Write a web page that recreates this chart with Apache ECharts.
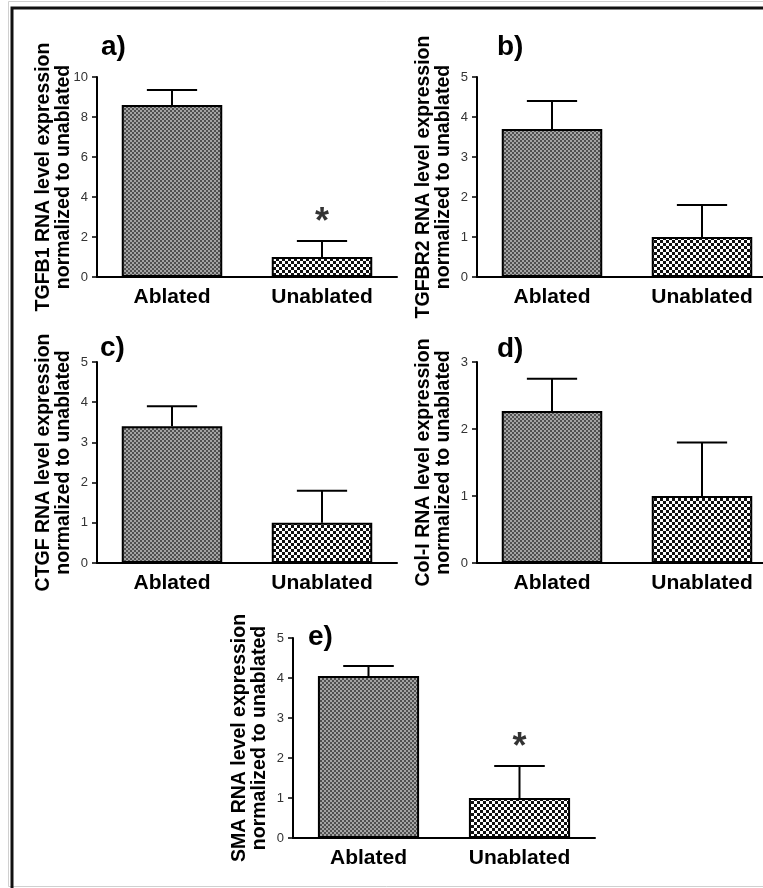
<!DOCTYPE html>
<html><head><meta charset="utf-8">
<script src="https://cdn.jsdelivr.net/npm/echarts@6/dist/echarts.min.js"></script>
<style>html,body{margin:0;padding:0;background:#fff}#c{width:763px;height:888px}</style>
</head><body><div id="c"></div>
<script>
// ---- data ----
const categories = ['Ablated', 'Unablated'];
const tgfb1Mean = [8.6, 1.0];
const tgfb1Err = [0.75, 0.8];
const tgfb1Sig = ['', '*'];
const tgfbr2Mean = [3.7, 1.0];
const tgfbr2Err = [0.7, 0.8];
const tgfbr2Sig = ['', ''];
const ctgfMean = [3.4, 1.0];
const ctgfErr = [0.5, 0.8];
const ctgfSig = ['', ''];
const col1Mean = [2.27, 1.0];
const col1Err = [0.48, 0.8];
const col1Sig = ['', ''];
const smaMean = [4.05, 1.0];
const smaErr = [0.25, 0.8];
const smaSig = ['', '*'];
const panelLetters = ['a)', 'b)', 'c)', 'd)', 'e)'];
const yTitles = [
  'TGFB1 RNA level expression\nnormalized to unablated',
  'TGFBR2 RNA level expression\nnormalized to unablated',
  'CTGF RNA level expression\nnormalized to unablated',
  'Col-I RNA level expression\nnormalized to unablated',
  'SMA RNA level expression\nnormalized to unablated'
];
const yMax = [10, 5, 5, 3, 5];
const yStep = [2, 1, 1, 1, 1];

// ---- styling / layout ----
const FONT = '"Liberation Sans", Arial, Helvetica, sans-serif';
const panels = [
  { mean: tgfb1Mean, err: tgfb1Err, sig: tgfb1Sig },
  { mean: tgfbr2Mean, err: tgfbr2Err, sig: tgfbr2Sig },
  { mean: ctgfMean, err: ctgfErr, sig: ctgfSig },
  { mean: col1Mean, err: col1Err, sig: col1Sig },
  { mean: smaMean, err: smaErr, sig: smaSig }
];
const gridBoxes = [
  { left: 97, top: 77, width: 300, height: 200 },
  { left: 477, top: 77, width: 300, height: 200 },
  { left: 97, top: 362, width: 300, height: 201 },
  { left: 477, top: 362, width: 300, height: 201 },
  { left: 293, top: 638, width: 302, height: 200 }
];
const letterPos = [[101, 33], [497, 33], [100, 334], [497, 335], [308, 623]];

function makePattern(size, bg, fg) {
  const cv = document.createElement('canvas');
  cv.width = cv.height = size * 2;
  const ctx = cv.getContext('2d');
  ctx.fillStyle = bg; ctx.fillRect(0, 0, size * 2, size * 2);
  ctx.fillStyle = fg; ctx.fillRect(0, 0, size, size); ctx.fillRect(size, size, size, size);
  return cv;
}
const patAblated = makePattern(2, '#a4a4a4', '#505050');
const patUnablated = makePattern(3, '#ffffff', '#111111');
const BAR_FRAC = 0.67;

function errRender(params, api) {
  const x = api.value(0), m = api.value(1), e = api.value(2);
  const base = api.coord([x, m]);
  const top = api.coord([x, m + e]);
  const band = api.size([1, 0])[0];
  const half = band * BAR_FRAC * 0.25;
  return {
    type: 'group', children: [
      { type: 'line', shape: { x1: base[0], y1: base[1], x2: top[0], y2: top[1] }, style: { stroke: '#000', lineWidth: 2 } },
      { type: 'line', shape: { x1: top[0] - half, y1: top[1], x2: top[0] + half, y2: top[1] }, style: { stroke: '#000', lineWidth: 2 } }
    ]
  };
}

const grid = [], xAxis = [], yAxis = [], series = [], title = [];
panels.forEach((p, i) => {
  grid.push(Object.assign({ outerBoundsMode: 'none', containLabel: false }, gridBoxes[i]));
  xAxis.push({
    gridIndex: i, type: 'category', data: categories,
    axisLine: { lineStyle: { color: '#000', width: 2 } },
    axisTick: { alignWithLabel: true, length: 6, lineStyle: { color: '#000', width: 2 } },
    axisLabel: { fontSize: 21, fontWeight: 'bold', color: '#000', margin: 10, fontFamily: FONT, interval: 0 },
    splitLine: { show: false }
  });
  yAxis.push({
    gridIndex: i, type: 'value', min: 0, max: yMax[i], interval: yStep[i],
    name: yTitles[i], nameLocation: 'middle', nameGap: 23, nameRotate: 90, nameMoveOverlap: false,
    nameTextStyle: { fontSize: 19.5, fontWeight: 'bold', lineHeight: 20, color: '#000', fontFamily: FONT },
    axisLine: { show: true, lineStyle: { color: '#000', width: 2 } },
    axisTick: { show: true, length: 5, lineStyle: { color: '#000', width: 1.5 } },
    axisLabel: { fontSize: 13, color: '#333', margin: 9, fontFamily: FONT },
    splitLine: { show: false }
  });
  series.push({
    type: 'bar', xAxisIndex: i, yAxisIndex: i, barWidth: (BAR_FRAC * 100) + '%',
    data: p.mean.map((v, k) => ({
      value: v,
      itemStyle: { color: { image: k === 0 ? patAblated : patUnablated, repeat: 'repeat' }, borderColor: '#000', borderWidth: 2 }
    })),
    silent: true, animation: false
  });
  series.push({
    type: 'custom', xAxisIndex: i, yAxisIndex: i, renderItem: errRender,
    data: p.mean.map((v, k) => [k, v, p.err[k]]),
    encode: { x: 0, y: 1 }, z: 5, silent: true, animation: false
  });
  series.push({
    type: 'scatter', xAxisIndex: i, yAxisIndex: i, symbolSize: 0,
    data: p.mean.map((v, k) => ({ value: [k, v + p.err[k]], label: { show: p.sig[k] !== '', formatter: p.sig[k] } })),
    label: { position: 'top', distance: 0, fontSize: 36, fontWeight: 'bold', color: '#000', fontFamily: FONT },
    silent: true, animation: false
  });
  title.push({
    text: panelLetters[i], left: letterPos[i][0], top: letterPos[i][1], padding: 0,
    textStyle: { fontSize: 28, fontWeight: 'bold', color: '#000', fontFamily: FONT }
  });
});

const chart = echarts.init(document.getElementById('c'), null, { renderer: 'canvas' });
chart.setOption({
  backgroundColor: '#fff',
  animation: false,
  title, grid, xAxis, yAxis, series,
  graphic: [
    { type: 'rect', shape: { x: 8.5, y: 1.5, width: 900, height: 885 }, style: { fill: 'none', stroke: '#d0d0d0', lineWidth: 1 }, silent: true },
    { type: 'rect', shape: { x: 12, y: 8, width: 900, height: 1000 }, style: { fill: 'none', stroke: '#111', lineWidth: 3 }, silent: true }
  ]
});
</script></body></html>
